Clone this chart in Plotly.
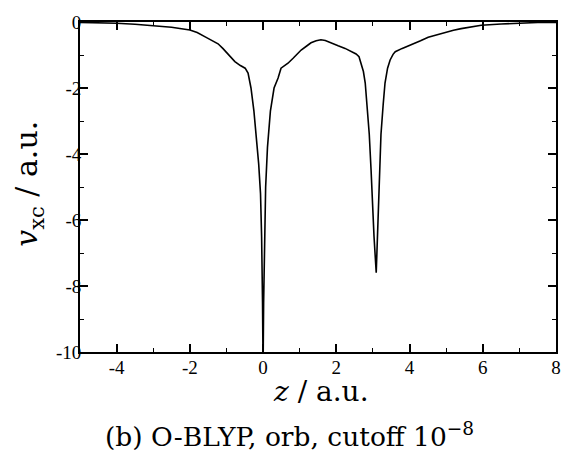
import plotly.graph_objects as go

# Curve: z (a.u.) and v_xc (a.u.)
z_vals = [-5.0, -4.5, -4.0, -3.5, -3.0, -2.5, -2.0, -1.8, -1.58, -1.4, -1.23, -1.1,
          -0.96, -0.85, -0.77, -0.62, -0.49, -0.41, -0.33, -0.25, -0.19, -0.12,
          -0.07, -0.04, -0.015, 0.0, 0.015, 0.04, 0.07, 0.12, 0.2, 0.3, 0.41,
          0.49, 0.6, 0.68, 0.82, 1.04, 1.2, 1.31, 1.45, 1.58, 1.7, 1.86, 2.05,
          2.24, 2.4, 2.54, 2.62, 2.68, 2.74, 2.79, 2.85, 2.9, 2.95, 2.98, 3.03,
          3.09, 3.12, 3.14, 3.18, 3.22, 3.28, 3.33, 3.4, 3.47, 3.55, 3.61, 3.8,
          4.04, 4.3, 4.51, 4.75, 4.97, 5.2, 5.41, 5.7, 5.96, 6.5, 6.97, 7.5, 8.0]
v_vals = [-0.01, -0.02, -0.04, -0.07, -0.11, -0.16, -0.24, -0.32, -0.45, -0.55, -0.66, -0.8,
          -0.96, -1.1, -1.2, -1.32, -1.4, -1.55, -2.0, -2.7, -3.4, -4.3,
          -5.2, -6.5, -8.5, -10.5, -8.5, -6.5, -5.0, -3.8, -2.7, -2.0, -1.7,
          -1.4, -1.32, -1.25, -1.1, -0.85, -0.72, -0.63, -0.57, -0.54, -0.56, -0.64, -0.72,
          -0.8, -0.88, -0.97, -1.05, -1.25, -1.5, -1.85, -2.6, -3.4, -4.5, -5.4, -6.5,
          -7.6, -6.6, -5.4, -4.3, -3.4, -2.5, -1.85, -1.4, -1.15, -0.98, -0.9, -0.8,
          -0.7, -0.57, -0.46, -0.38, -0.31, -0.25, -0.2, -0.14, -0.1, -0.06, -0.03, -0.015, -0.01]

x_tick_vals = [-4, -2, 0, 2, 4, 6, 8]
x_tick_text = ["-4", "-2", "0", "2", "4", "6", "8"]
y_tick_vals = [0, -2, -4, -6, -8, -10]
y_tick_text = ["0", "-2", "-4", "-6", "-8", "-10"]

x_title = "<i>z</i> / a.u."
y_title = "<i>v</i><sub>xc</sub> / a.u."
caption = "(b) O-BLYP, orb, cutoff 10<sup>−8</sup>"

SERIF = "Liberation Serif, Times New Roman, serif"
WIDE_SERIF = "DejaVu Serif, serif"

fig = go.Figure()
fig.add_trace(go.Scatter(x=z_vals, y=v_vals, mode="lines",
                         line=dict(color="black", width=1.6), showlegend=False))

axis_common = dict(
    showline=True, linecolor="black", linewidth=1.8, mirror="allticks",
    ticks="inside", ticklen=8, tickwidth=1.5, tickcolor="black",
    showgrid=False, zeroline=False, automargin=False,
    tickfont=dict(family=SERIF, size=19, color="black"),
)

fig.update_xaxes(range=[-5, 8], tickvals=x_tick_vals, ticktext=x_tick_text,
                 minor=dict(dtick=1, tick0=0, ticks="inside", ticklen=4,
                            tickwidth=1.2, tickcolor="black", showgrid=False),
                 ticklabelstandoff=-3, ticklabeloverflow="allow",
                 **axis_common)
fig.update_yaxes(range=[-10, 0], tickvals=y_tick_vals, ticktext=y_tick_text,
                 minor=dict(dtick=1, tick0=0, ticks="inside", ticklen=4,
                            tickwidth=1.2, tickcolor="black", showgrid=False),
                 ticklabelstandoff=-7, **axis_common)

fig.update_layout(
    width=561, height=451,
    margin=dict(l=80, r=5, t=22, b=99, autoexpand=False),
    plot_bgcolor="white", paper_bgcolor="white",
    font=dict(family=SERIF, color="black"),
    annotations=[
        dict(text=x_title, xref="paper", yref="paper", x=0.506, y=-0.121,
             xanchor="center", yanchor="middle", showarrow=False,
             font=dict(family=WIDE_SERIF, size=28, color="black")),
        dict(text=caption, xref="paper", yref="paper", x=0.44, y=-0.25,
             xanchor="center", yanchor="middle", showarrow=False,
             font=dict(family=WIDE_SERIF, size=26.5, color="black")),
        dict(text=y_title, xref="paper", yref="paper", x=-0.107, y=0.51,
             xanchor="center", yanchor="middle", showarrow=False, textangle=-90,
             font=dict(family=WIDE_SERIF, size=30, color="black")),
    ],
)

fig.write_html(
    "out.html",
    config={"displayModeBar": False, "responsive": False},
    post_script=("document.body.style.margin='0';"
                 "document.body.style.overflow='hidden';"
                 "Plotly.relayout(document.getElementById('{plot_id}'),"
                 "{width:561,height:451});"),
)
